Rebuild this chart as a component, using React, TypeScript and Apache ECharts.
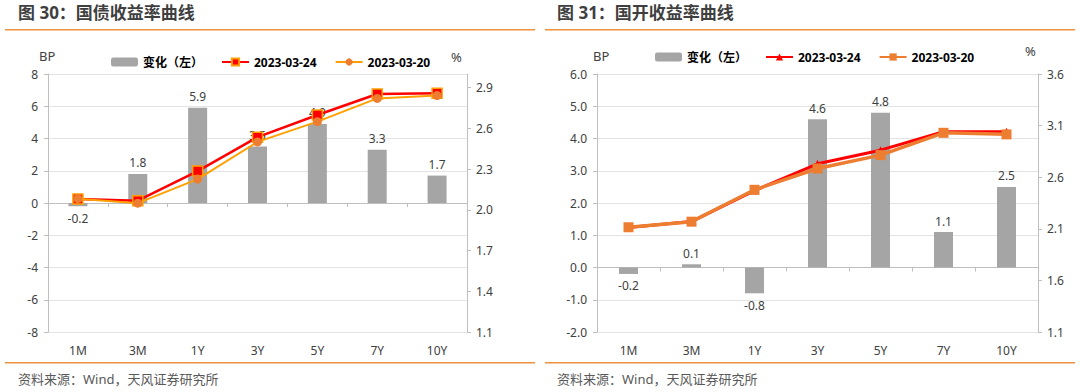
import React, { useEffect, useRef } from "react";
import * as echarts from "echarts";

const categories = ["1M", "3M", "1Y", "3Y", "5Y", "7Y", "10Y"];

// 图30 国债
const gzChange = [-0.2, 1.8, 5.9, 3.5, 4.9, 3.3, 1.7];
const gz0324 = [2.08, 2.067, 2.285, 2.535, 2.698, 2.853, 2.858];
const gz0320 = [2.082, 2.049, 2.226, 2.5, 2.649, 2.82, 2.841];
const gzLeftTicks = { min: -8, max: 8, interval: 2 };
const gzRightTicks = [1.1, 1.4, 1.7, 2.0, 2.3, 2.6, 2.9];

// 图31 国开
const gkChange = [-0.2, 0.1, -0.8, 4.6, 4.8, 1.1, 2.5];
const gk0324 = [2.113, 2.17, 2.47, 2.73, 2.862, 3.041, 3.04];
const gk0320 = [2.115, 2.169, 2.478, 2.684, 2.814, 3.03, 3.015];
const gkLeftTicks = { min: -2, max: 6, interval: 1 };
const gkRightTicks = [1.1, 1.6, 2.1, 2.6, 3.1, 3.6];

const FONT = '"Noto Sans", "Noto Sans CJK SC", sans-serif';
const AXIS_COLOR = "#BFBFBF";
const LABEL_COLOR = "#404040";
const ORANGE_RULE = "#F0913F";

type Cfg = {
  title: string;
  change: number[];
  s24: number[];
  s20: number[];
  left: { min: number; max: number; interval: number };
  leftDecimals: number;
  rightTicks: number[];
  rightMax: number;
  gridLeft: number;
  gridRight: number;
  legendLeft: number;
  legendTop: number;
  bpX: number;
  pctX: number;
  pctY: number;
  titleX: number;
  variant: "gz" | "gk";
};

function buildOption(c: Cfg): any {
  const barData = c.change.map((v) => ({
    value: v,
    label: { position: v < 0 ? "bottom" : "top", distance: v < 0 ? 6 : 5 },
  }));
  const textBase = { fontFamily: FONT };
  const s24 =
    c.variant === "gz"
      ? {
          lineStyle: { color: "#FF0000", width: 2.5 },
          itemStyle: { color: "#FF0000", borderColor: "#FFA000", borderWidth: 1.5 },
          symbol: "rect",
          symbolSize: 10,
        }
      : {
          lineStyle: { color: "#FF0000", width: 3 },
          itemStyle: { color: "#FF0000" },
          symbol: "triangle",
          symbolSize: 8,
        };
  const s20 =
    c.variant === "gz"
      ? {
          lineStyle: { color: "#FFA000", width: 2 },
          itemStyle: { color: "#ED7D31" },
          symbol: "circle",
          symbolSize: 9,
        }
      : {
          lineStyle: { color: "#ED7D31", width: 3.5 },
          itemStyle: { color: "#ED7D31" },
          symbol: "rect",
          symbolSize: 10,
        };
  return {
    animation: false,
    textStyle: { fontFamily: FONT },
    grid: { left: c.gridLeft, right: c.gridRight, top: 74, bottom: 60 },
    legend: {
      left: c.legendLeft,
      top: c.legendTop,
      itemWidth: 27,
      itemHeight: 9,
      itemGap: 18,
      textStyle: { fontFamily: FONT, fontSize: 12, fontWeight: "bold", color: "#000" },
      data: ["变化（左）", "2023-03-24", "2023-03-20"],
    },
    xAxis: [
      {
        type: "category",
        data: categories,
        axisLine: { onZero: true, lineStyle: { color: AXIS_COLOR } },
        axisTick: { show: true, length: 4, lineStyle: { color: AXIS_COLOR } },
        axisLabel: { show: false },
      },
      {
        type: "category",
        data: categories,
        position: "bottom",
        axisLine: { show: false, onZero: false },
        axisTick: { show: false },
        axisLabel: { ...textBase, fontSize: 12, color: LABEL_COLOR, margin: 12 },
      },
    ],
    yAxis: [
      {
        type: "value",
        min: c.left.min,
        max: c.left.max,
        interval: c.left.interval,
        axisLine: { show: true, lineStyle: { color: AXIS_COLOR } },
        axisTick: { show: true, length: 4, lineStyle: { color: AXIS_COLOR } },
        axisLabel: {
          ...textBase,
          fontSize: 12,
          color: LABEL_COLOR,
          margin: 10,
          formatter: (v: number) => v.toFixed(c.leftDecimals),
        },
        splitLine: { show: true, lineStyle: { color: "#E3E3E3" } },
      },
      {
        type: "value",
        min: 1.1,
        max: c.rightMax,
        position: "right",
        axisLine: { show: true, lineStyle: { color: AXIS_COLOR } },
        axisTick: {
          show: true,
          length: 4,
          lineStyle: { color: AXIS_COLOR },
          customValues: c.rightTicks,
        },
        axisLabel: {
          ...textBase,
          fontSize: 12,
          color: LABEL_COLOR,
          margin: 9,
          customValues: c.rightTicks,
          formatter: (v: number) => v.toFixed(1),
        },
        splitLine: { show: false },
      },
    ],
    series: [
      {
        name: "变化（左）",
        type: "bar",
        xAxisIndex: 0,
        yAxisIndex: 0,
        barWidth: 19,
        itemStyle: { color: "#A5A5A5" },
        label: {
          show: true,
          fontFamily: FONT,
          fontSize: 12,
          color: LABEL_COLOR,
          formatter: (p: any) => Number(p.value).toFixed(1),
        },
        data: barData,
      },
      {
        name: "2023-03-24",
        type: "line",
        xAxisIndex: 0,
        yAxisIndex: 1,
        ...s24,
        z: 3,
        data: c.s24,
      },
      {
        name: "2023-03-20",
        type: "line",
        xAxisIndex: 0,
        yAxisIndex: 1,
        ...s20,
        z: 4,
        data: c.s20,
      },
    ],
    graphic: [
      {
        type: "text",
        left: c.titleX,
        top: 4,
        style: { text: c.title, fontFamily: FONT, fontSize: 17, fontWeight: "bold", fill: "#3F3F3F" },
      },
      { type: "rect", shape: { x: 5, y: 29, width: 530, height: 1.5 }, style: { fill: ORANGE_RULE } },
      { type: "rect", shape: { x: 5, y: 362, width: 530, height: 1.5 }, style: { fill: ORANGE_RULE } },
      {
        type: "text",
        left: c.titleX,
        top: 372,
        style: { text: "资料来源：Wind，天风证券研究所", fontFamily: FONT, fontSize: 13, fill: "#595959" },
      },
      {
        type: "text",
        left: c.bpX,
        top: 49,
        style: { text: "BP", fontFamily: FONT, fontSize: 13, fill: LABEL_COLOR },
      },
      {
        type: "text",
        left: c.pctX,
        top: c.pctY,
        style: { text: "%", fontFamily: FONT, fontSize: 13, fill: LABEL_COLOR },
      },
    ],
  };
}

const cfgGz: Cfg = {
  title: "图 30：国债收益率曲线",
  change: gzChange,
  s24: gz0324,
  s20: gz0320,
  left: gzLeftTicks,
  leftDecimals: 0,
  rightTicks: gzRightTicks,
  rightMax: 3.0,
  gridLeft: 48,
  gridRight: 73,
  legendLeft: 106,
  legendTop: 51,
  bpX: 39,
  pctX: 451,
  pctY: 50,
  titleX: 18,
  variant: "gz",
};

const cfgGk: Cfg = {
  title: "图 31：国开收益率曲线",
  change: gkChange,
  s24: gk0324,
  s20: gk0320,
  left: gkLeftTicks,
  leftDecimals: 1,
  rightTicks: gkRightTicks,
  rightMax: 3.6,
  gridLeft: 57,
  gridRight: 42,
  legendLeft: 110,
  legendTop: 46,
  bpX: 53,
  pctX: 485,
  pctY: 44,
  titleX: 17,
  variant: "gk",
};

function Chart({ cfg }: { cfg: Cfg }) {
  const ref = useRef<HTMLDivElement>(null);
  useEffect(() => {
    if (!ref.current) return;
    const chart = echarts.init(ref.current, undefined, { renderer: "svg" });
    chart.setOption(buildOption(cfg));
    return () => chart.dispose();
  }, [cfg]);
  return <div ref={ref} style={{ width: 540, height: 392 }} />;
}

export default function App() {
  return (
    <div
      style={{
        position: "fixed",
        left: 0,
        top: 0,
        width: 1080,
        height: 392,
        display: "flex",
        background: "#fff",
      }}
    >
      <Chart cfg={cfgGz} />
      <Chart cfg={cfgGk} />
    </div>
  );
}
